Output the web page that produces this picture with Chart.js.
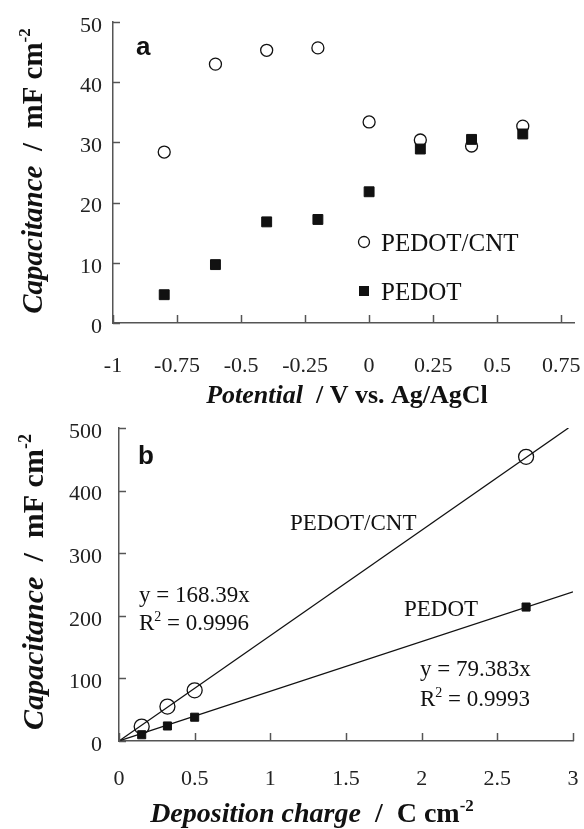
<!DOCTYPE html>
<html>
<head>
<meta charset="utf-8">
<script src="https://cdn.jsdelivr.net/npm/chart.js@4.4.1/dist/chart.umd.min.js"></script>
<style>
  body { margin: 0; background: #fff; }
  #wrap { position: relative; width: 584px; height: 829px; }
  canvas { position: absolute; left: 0; }
</style>
</head>
<body>
<div id="wrap">
  <canvas id="potential" width="584" height="412" style="top:0"></canvas>
  <canvas id="charge" width="584" height="417" style="top:412px"></canvas>
</div>
<script>
// panel a: capacitance vs deposition potential
const potentials = [-0.8, -0.6, -0.4, -0.2, 0, 0.2, 0.4, 0.6];
const cntCapA = [28.4, 43.0, 45.3, 45.7, 33.4, 30.4, 29.4, 32.7];
const pedotCapA = [4.7, 9.7, 16.8, 17.2, 21.8, 28.9, 30.5, 31.4];
const xTicksA = [-1, -0.75, -0.5, -0.25, 0, 0.25, 0.5, 0.75];
const yTicksA = [0, 10, 20, 30, 40, 50];

// panel b: capacitance vs deposition charge
const charges = [0.15, 0.32, 0.5, 2.69];
const cntCapB = [23, 55, 81, 454];
const pedotCapB = [10, 24, 38, 214];
const fitSlopes = [168.39, 79.383];
const fitEnds = [2.97, 3];
const xTicksB = [0, 0.5, 1, 1.5, 2, 2.5, 3];
const yTicksB = [0, 100, 200, 300, 400, 500];

const serif = '"Liberation Serif", "Times New Roman", serif';
const sans = '"Liberation Sans", Arial, sans-serif';
const ink = "#111";
const axisGray = "#555";

function pts(xs, ys) {
    return xs.map((x, i) => ({ x: x, y: ys[i] }));
}

// draws a run of text pieces with different fonts, centred on cx
function drawRich(ctx, parts, cx, cy, rotate, align) {
    ctx.save();
    ctx.translate(cx, cy);
    if (rotate) ctx.rotate(-Math.PI / 2);
    let total = 0;
    parts.forEach((p) => {
        ctx.font = p.font;
        total += ctx.measureText(p.text).width;
    });
    let x = align === "left" ? 0 : -total / 2;
    ctx.fillStyle = ink;
    ctx.textBaseline = "alphabetic";
    parts.forEach((p) => {
        ctx.font = p.font;
        ctx.fillText(p.text, x, -(p.rise || 0));
        x += ctx.measureText(p.text).width;
    });
    ctx.restore();
}

function titleParts(italic, rest, sup, size) {
    return [
        { text: italic, font: "bold italic " + size + "px " + serif },
        { text: rest, font: "bold " + size + "px " + serif },
        { text: sup, font: "bold " + Math.round(size * 0.6) + "px " + serif, rise: Math.round(size * 0.4) },
    ];
}

const decorations = {
    potential(ctx) {
        drawRich(ctx, titleParts("Capacitance", "  /  mF cm", "-2", 29), 42, 171, true);
        drawRich(ctx, titleParts("Potential", "  / V vs. Ag/AgCl", "", 26), 347, 403, false);
        drawRich(ctx, [{ text: "a", font: "bold 26px " + sans }], 136, 55, false, "left");
        // legend
        ctx.save();
        ctx.strokeStyle = ink;
        ctx.lineWidth = 1.3;
        ctx.beginPath();
        ctx.arc(364, 242, 5.5, 0, Math.PI * 2);
        ctx.stroke();
        ctx.fillStyle = ink;
        ctx.fillRect(359, 286, 10, 10);
        ctx.restore();
        drawRich(ctx, [{ text: "PEDOT/CNT", font: "25px " + serif }], 381, 251, false, "left");
        drawRich(ctx, [{ text: "PEDOT", font: "25px " + serif }], 381, 300, false, "left");
    },
    charge(ctx) {
        drawRich(ctx, titleParts("Capacitance", "  /  mF cm", "-2", 30), 43, 170, true);
        drawRich(ctx, titleParts("Deposition charge", "  /  C cm", "-2", 28), 312, 410, false);
        drawRich(ctx, [{ text: "b", font: "bold 26px " + sans }], 138, 52, false, "left");
        const f = "23px " + serif;
        const sup = "14px " + serif;
        drawRich(ctx, [{ text: "PEDOT/CNT", font: f }], 290, 118, false, "left");
        drawRich(ctx, [{ text: "PEDOT", font: f }], 404, 204, false, "left");
        drawRich(ctx, [{ text: "y = 168.39x", font: f }], 139, 190, false, "left");
        drawRich(ctx, [{ text: "R", font: f }, { text: "2", font: sup, rise: 9 }, { text: " = 0.9996", font: f }], 139, 218, false, "left");
        drawRich(ctx, [{ text: "y = 79.383x", font: f }], 420, 264, false, "left");
        drawRich(ctx, [{ text: "R", font: f }, { text: "2", font: sup, rise: 9 }, { text: " = 0.9993", font: f }], 420, 294, false, "left");
    },
};

// inward tick marks on both axes, plus the hand-set text
const innerTicks = {
    id: "innerTicks",
    afterDatasetsDraw(chart) {
        const ctx = chart.ctx;
        const area = chart.chartArea;
        ctx.save();
        ctx.strokeStyle = axisGray;
        ctx.lineWidth = 1.5;
        chart.scales.x.ticks.forEach((t) => {
            const px = Math.round(chart.scales.x.getPixelForValue(t.value)) + 0.5;
            ctx.beginPath();
            ctx.moveTo(px, area.bottom);
            ctx.lineTo(px, area.bottom - 8);
            ctx.stroke();
        });
        chart.scales.y.ticks.forEach((t) => {
            const py = Math.round(chart.scales.y.getPixelForValue(t.value)) + 0.5;
            ctx.beginPath();
            ctx.moveTo(area.left, py);
            ctx.lineTo(area.left + 7, py);
            ctx.stroke();
        });
        ctx.restore();
    },
    afterDraw(chart) {
        const decor = decorations[chart.canvas.id];
        if (decor) decor(chart.ctx);
    },
};

function axis(ticksList, min, max, size, pad, offset) {
    return {
        type: "linear",
        min: min,
        max: max,
        grid: { display: false, drawTicks: false },
        border: { display: true, color: axisGray, width: 1.5 },
        afterBuildTicks(scale) {
            scale.ticks = ticksList.map((v) => ({ value: v }));
        },
        afterFit(scale) {
            if (scale.isHorizontal()) scale.height = size;
            else scale.width = size;
            scale.paddingLeft = 0;
            scale.paddingRight = 0;
            scale.paddingTop = 0;
            scale.paddingBottom = 0;
        },
        ticks: {
            padding: pad,
            labelOffset: offset || 0,
            color: "#222",
            font: { family: serif, size: 22 },
            callback: (v) => String(v),
        },
    };
}

new Chart(document.getElementById("potential"), {
    type: "scatter",
    data: {
        datasets: [
            {
                label: "PEDOT/CNT",
                data: pts(potentials, cntCapA),
                pointStyle: "circle",
                pointRadius: 6,
                backgroundColor: "#fff",
                borderColor: ink,
                borderWidth: 1.3,
                order: 1,
            },
            {
                label: "PEDOT",
                data: pts(potentials, pedotCapA),
                pointStyle: "rect",
                pointRadius: 7,
                backgroundColor: ink,
                borderColor: ink,
                borderWidth: 1,
                order: 0,
            },
        ],
    },
    options: {
        responsive: false,
        animation: false,
        layout: { padding: { left: 0, right: 10, top: 22, bottom: 0 } },
        scales: {
            x: axis(xTicksA, -1, 0.8, 89, 30),
            y: axis(yTicksA, 0, 50, 113, 11, 4),
        },
        plugins: {
            legend: { display: false },
            tooltip: { enabled: false },
        },
    },
    plugins: [innerTicks],
});

new Chart(document.getElementById("charge"), {
    type: "scatter",
    data: {
        datasets: [
            {
                type: "line",
                label: "PEDOT/CNT fit",
                data: [{ x: 0, y: 0 }, { x: fitEnds[0], y: fitSlopes[0] * fitEnds[0] }],
                borderColor: ink,
                borderWidth: 1.2,
                pointRadius: 0,
                order: 2,
            },
            {
                type: "line",
                label: "PEDOT fit",
                data: [{ x: 0, y: 0 }, { x: fitEnds[1], y: fitSlopes[1] * fitEnds[1] }],
                borderColor: ink,
                borderWidth: 1.2,
                pointRadius: 0,
                order: 2,
            },
            {
                label: "PEDOT/CNT",
                data: pts(charges, cntCapB),
                pointStyle: "circle",
                pointRadius: 7.5,
                backgroundColor: "rgba(0,0,0,0)",
                borderColor: ink,
                borderWidth: 1.3,
                order: 1,
            },
            {
                label: "PEDOT",
                data: pts(charges, pedotCapB),
                pointStyle: "rect",
                pointRadius: 5.7,
                backgroundColor: ink,
                borderColor: ink,
                borderWidth: 1,
                order: 0,
            },
        ],
    },
    options: {
        responsive: false,
        animation: false,
        layout: { padding: { left: 0, right: 11, top: 16, bottom: 0 } },
        scales: {
            x: axis(xTicksB, 0, 3, 88, 25),
            y: axis(yTicksB, 0, 500, 119, 17, 4),
        },
        plugins: {
            legend: { display: false },
            tooltip: { enabled: false },
        },
    },
    plugins: [innerTicks],
});
</script>
</body>
</html>
